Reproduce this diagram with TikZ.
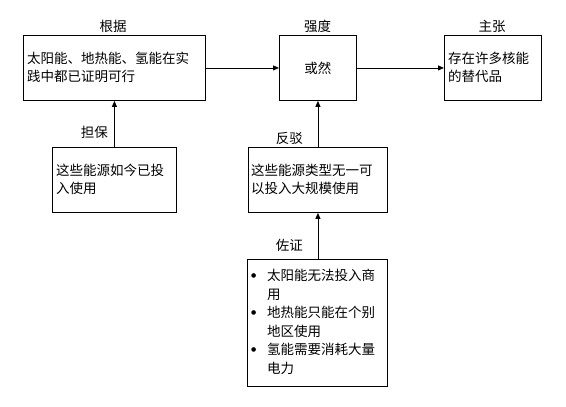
\documentclass[tikz,border=0pt]{standalone}
\usepackage{fontspec}
\setmainfont{Noto Sans CJK SC}
\newfontfamily\dvfont{DejaVu Sans}
\usetikzlibrary{arrows.meta}
\newcommand{\mybul}{\makebox[17pt][l]{\hspace{1pt}\raisebox{3.5pt}{\dvfont\fontsize{6}{6}\selectfont ●}}}
\begin{document}
\begin{tikzpicture}[x=1pt,y=-1pt,
  every node/.style={font=\fontsize{13.5}{18.5}\selectfont},
  box/.style={draw, line width=0.9pt, inner sep=0pt, anchor=north west},
  txt/.style={align=left, inner sep=0pt, anchor=west},
  lbl/.style={inner sep=0pt},
  conn/.style={line width=0.9pt, -{Triangle[length=6pt,width=5pt]}}]
\useasboundingbox[fill=white] (0,0) rectangle (566,407);
% boxes
\node[box, minimum width=182pt, minimum height=65pt] (gen) at (23,35) {};
\node[box, minimum width=77pt, minimum height=65pt] (qiang) at (279,35) {};
\node[box, minimum width=97pt, minimum height=65pt] (zhu) at (444,35) {};
\node[box, minimum width=124pt, minimum height=65pt] (bao) at (52,147) {};
\node[box, minimum width=139pt, minimum height=65pt] (fan) at (248,147) {};
\node[box, minimum width=140pt, minimum height=127pt] (zuo) at (247,259) {};
% texts
\node[txt] (tgen) at (27,67.5) {太阳能、地热能、氢能在实\\践中都已证明可行};
\node[inner sep=0pt] (tqiang) at (qiang.center) {或然};
\node[txt] (tzhu) at (448,67.5) {存在许多核能\\的替代品};
\node[txt] (tbao) at (56,179.5) {这些能源如今已投\\入使用};
\node[txt] (tfan) at (251,179.5) {这些能源类型无一可\\以投入大规模使用};
\node[txt] (tzuo) at (250,322) {\mybul 太阳能无法投入商\\
\hspace*{17pt}用\\
\mybul 地热能只能在个别\\
\hspace*{17pt}地区使用\\
\mybul 氢能需要消耗大量\\
\hspace*{17pt}电力};
% labels
\node[lbl] (lgen) at (113,26) {根据};
\node[lbl] (lqiang) at (317.5,26) {强度};
\node[lbl] (lzhu) at (492,26) {主张};
\node[lbl, anchor=east] (lbao) at (108,132) {担保};
\node[lbl, anchor=east] (lfan) at (303,138) {反驳};
\node[lbl, anchor=east] (lzuo) at (303,245) {佐证};
% connectors
\draw[conn] (gen.east) -- (qiang.west);
\draw[conn] (qiang.east) -- (zhu.west);
\draw[conn] (bao.north) -- (gen.south -| bao.north);
\draw[conn] (fan.north) -- (qiang.south -| fan.north);
\draw[conn] (zuo.north -| fan.south) -- (fan.south);
\end{tikzpicture}
\end{document}
